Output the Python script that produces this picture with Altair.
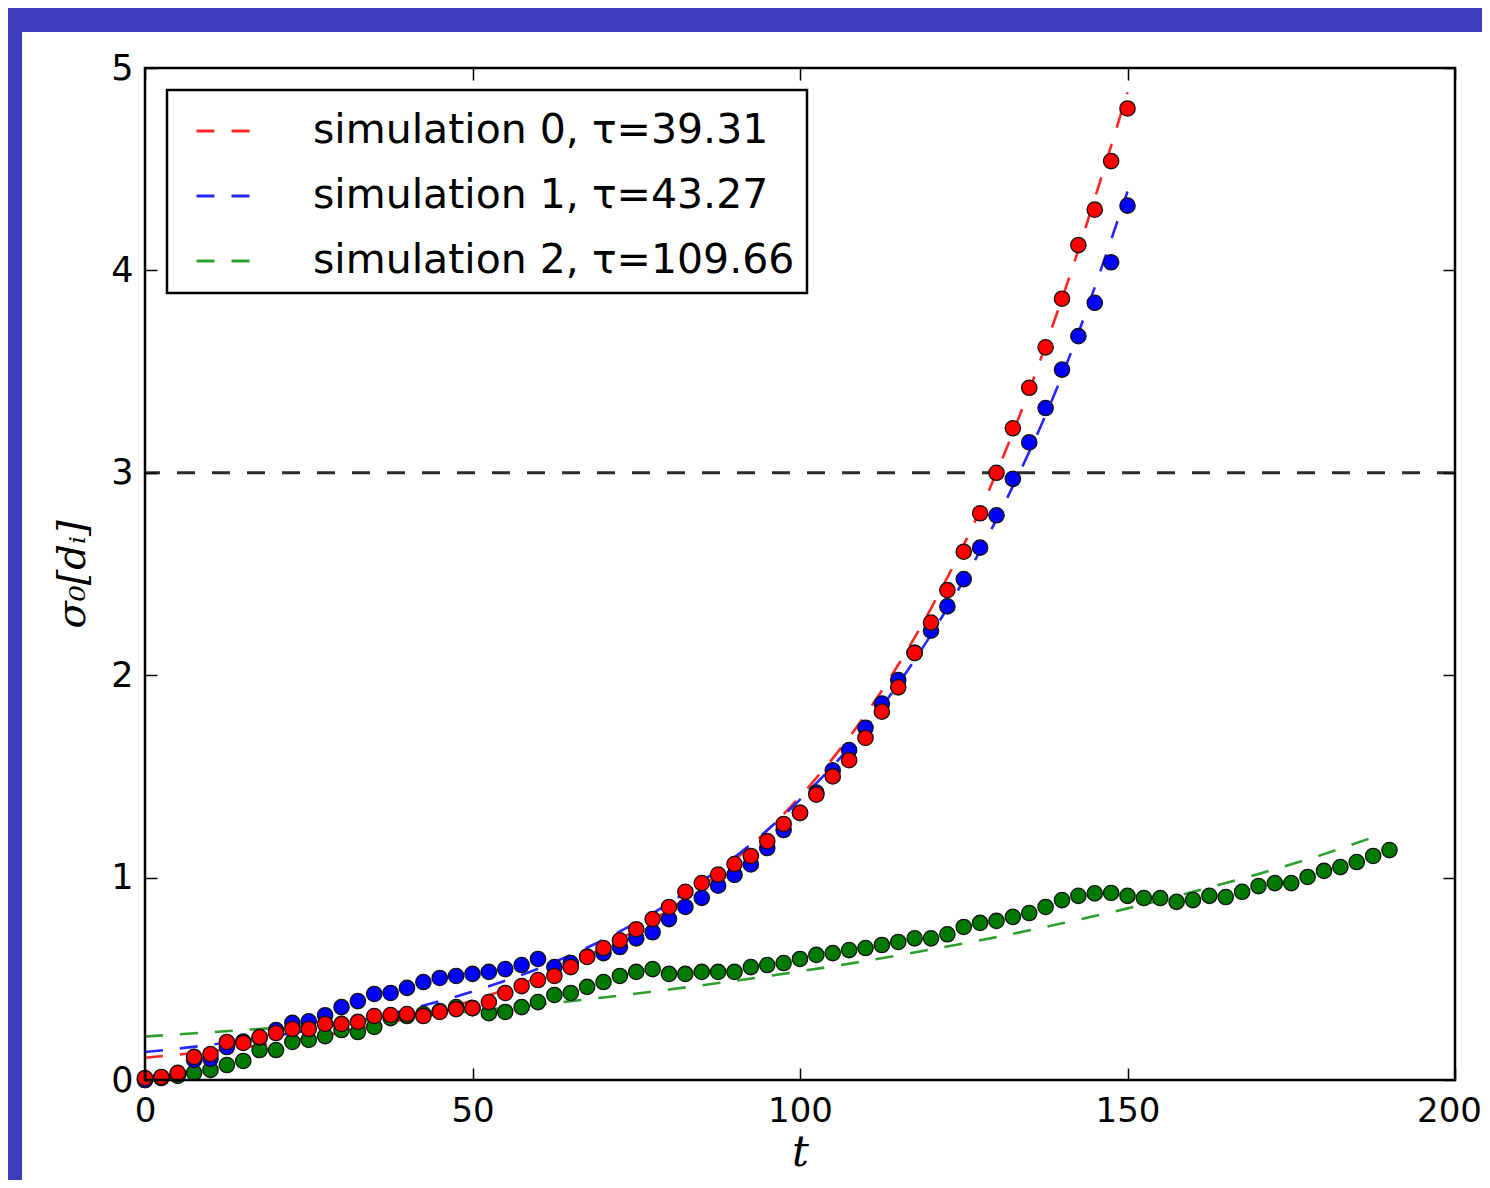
import altair as alt
import pandas as pd

# ---------------- data ----------------
sim_labels = ["simulation 0, τ=39.31", "simulation 1, τ=43.27", "simulation 2, τ=109.66"]

t_step = 2.5
red_vals = [0.01, 0.015, 0.035, 0.114, 0.128, 0.188, 0.183, 0.212, 0.232, 0.252,
            0.252, 0.277, 0.277, 0.287, 0.316, 0.321, 0.326, 0.316, 0.336, 0.35,
            0.355, 0.385, 0.43, 0.464, 0.494, 0.514, 0.558, 0.608, 0.652, 0.69,
            0.745, 0.795, 0.855, 0.93, 0.973, 1.015, 1.067, 1.107, 1.18, 1.265,
            1.32, 1.41, 1.50, 1.58, 1.69, 1.82, 1.94, 2.11, 2.26, 2.42,
            2.61, 2.80, 3.00, 3.22, 3.42, 3.62, 3.86, 4.125, 4.30, 4.54, 4.80]
blue_vals = [0.0, 0.01, 0.03, 0.099, 0.104, 0.163, 0.19, 0.21, 0.247, 0.282,
             0.29, 0.32, 0.36, 0.39, 0.425, 0.43, 0.455, 0.484, 0.504, 0.514,
             0.524, 0.534, 0.548, 0.568, 0.598, 0.558, 0.578, 0.61, 0.627, 0.657,
             0.70, 0.73, 0.795, 0.855, 0.90, 0.96, 1.013, 1.065, 1.146, 1.235,
             1.32, 1.42, 1.53, 1.63, 1.74, 1.86, 1.976, 2.11, 2.22, 2.34,
             2.475, 2.63, 2.79, 2.97, 3.15, 3.32, 3.51, 3.675, 3.84, 4.04, 4.32]
green_vals = [0.0, 0.01, 0.02, 0.035, 0.05, 0.074, 0.094, 0.148, 0.148, 0.188,
              0.198, 0.217, 0.247, 0.237, 0.262, 0.306, 0.316, 0.326, 0.34, 0.36,
              0.355, 0.33, 0.336, 0.36, 0.385, 0.42, 0.43, 0.46, 0.484, 0.514,
              0.534, 0.548, 0.524, 0.524, 0.534, 0.534, 0.534, 0.558, 0.568, 0.578,
              0.598, 0.618, 0.627, 0.642, 0.652, 0.667, 0.682, 0.70, 0.70, 0.72,
              0.756, 0.776, 0.786, 0.806, 0.825, 0.855, 0.889, 0.91, 0.922, 0.924,
              0.91, 0.899, 0.899, 0.88, 0.889, 0.91, 0.904, 0.93, 0.958, 0.973,
              0.973, 1.003, 1.033, 1.052, 1.077, 1.107, 1.136]

fit_t = [0, 10, 20, 30, 40, 50, 60, 70, 80, 90, 100, 110, 120, 130, 140, 150]
fit_red = [0.11, 0.142, 0.183, 0.236, 0.304, 0.393, 0.506, 0.653, 0.842, 1.086,
           1.40, 1.805, 2.33, 3.00, 3.86, 4.88]
fit_blue = [0.138, 0.174, 0.219, 0.276, 0.347, 0.437, 0.55, 0.693, 0.873, 1.10,
            1.385, 1.74, 2.20, 2.77, 3.48, 4.39]
fit_green_t = [0, 10, 20, 30, 40, 50, 60, 70, 80, 90, 100, 110, 120, 130, 140,
               150, 160, 170, 180, 188]
fit_green = [0.215, 0.236, 0.258, 0.283, 0.31, 0.34, 0.372, 0.408, 0.447, 0.49,
             0.537, 0.588, 0.645, 0.706, 0.774, 0.848, 0.93, 1.018, 1.116, 1.205]

threshold = [3]
x_ticks = [0, 50, 100, 150, 200]
y_ticks = [0, 1, 2, 3, 4, 5]

dot_colors = ["#ff0000", "#0000ff", "#007a00"]
line_colors = ["#ff2525", "#2525ff", "#2e9e2e"]

# ---------------- tables ----------------
rows = []
# z-order: green below blue below red
for lab, vals in [(sim_labels[2], green_vals), (sim_labels[1], blue_vals), (sim_labels[0], red_vals)]:
    for i, v in enumerate(vals):
        rows.append({"t": i * t_step, "v": v, "sim": lab})
points_df = pd.DataFrame(rows)

frows = []
for lab, ts, vals in [(sim_labels[0], fit_t, fit_red), (sim_labels[1], fit_t, fit_blue),
                      (sim_labels[2], fit_green_t, fit_green)]:
    for t, v in zip(ts, vals):
        frows.append({"t": t, "v": v, "sim": lab})
fits_df = pd.DataFrame(frows)

W, H = 1310, 1012
xs = alt.Scale(domain=[0, 200], nice=False, zero=False)
ys = alt.Scale(domain=[0, 5], nice=False, zero=False)

def tick_axis(orient, offset, vals):
    return alt.Axis(orient=orient, offset=offset, values=vals, labels=False, domain=False,
                    grid=False, ticks=True, tickSize=12, tickWidth=1.5, tickColor="black",
                    title=None, zindex=1)

main_x = alt.Axis(values=x_ticks, ticks=False, domain=False, grid=False, labelFontSize=34,
                  labelFont="DejaVu Sans", labelColor="black", labelPadding=14,
                  labelFlush=False, labelOverlap=False, labelBound=False,
                  labelOffset=alt.ExprRef("datum.value == 200 ? -6 : 0"),
                  title="t", titleFont="DejaVu Serif", titleFontStyle="italic",
                  titleFontWeight="normal", titleFontSize=42, titleColor="black",
                  titleX=W / 2, titleY=72, titleBaseline="middle", zindex=1)
main_y = alt.Axis(values=y_ticks, ticks=False, domain=False, grid=False, labelFontSize=35,
                  labelFont="DejaVu Sans", labelColor="black", labelPadding=12,
                  labelFlush=False, labelOverlap=False, labelBound=False,
                  title="σ₀[dᵢ]", titleFont="DejaVu Serif", titleFontStyle="italic",
                  titleFontWeight="normal", titleFontSize=40, titleColor="black",
                  titleX=-73, titleY=H / 2, titleBaseline="middle", titleAlign="center",
                  zindex=1)

one = pd.DataFrame({"k": [0]})

bg = alt.Chart(one).mark_rect(color="white").encode(
    x=alt.value(-123), x2=alt.value(W + 60), y=alt.value(-36), y2=alt.value(H + 140))

lines = alt.Chart(fits_df).mark_line(strokeWidth=2.6, strokeDash=[18, 17],
                                     interpolate="monotone").encode(
    x=alt.X("t:Q", scale=xs, axis=main_x),
    y=alt.Y("v:Q", scale=ys, axis=main_y),
    color=alt.Color("sim:N", scale=alt.Scale(domain=sim_labels, range=line_colors),
                    legend=alt.Legend(title=None, orient="top-left", offset=22, padding=12,
                                      strokeColor="black", fillColor="white",
                                      labelFontSize=41, labelFont="DejaVu Sans",
                                      labelColor="black", labelLimit=0,
                                      symbolType="stroke", symbolSize=3025,
                                      symbolStrokeWidth=3, symbolDash=[18, 17],
                                      symbolOffset=16,
                                      labelOffset=60, rowPadding=16, zindex=1)),
    detail="sim:N",
)

points = alt.Chart(points_df).mark_circle(size=235, stroke="#111111", strokeWidth=1.3,
                                          opacity=1).encode(
    x=alt.X("t:Q", scale=xs, axis=tick_axis("top", -H, x_ticks)),
    y=alt.Y("v:Q", scale=ys, axis=tick_axis("right", -W, y_ticks)),
    fill=alt.Fill("sim:N", scale=alt.Scale(domain=sim_labels, range=dot_colors), legend=None),
)

ghost = alt.Chart(fits_df).mark_point(opacity=0).encode(
    x=alt.X("t:Q", scale=xs, axis=tick_axis("bottom", -H, x_ticks)),
    y=alt.Y("v:Q", scale=ys, axis=tick_axis("left", -W, y_ticks)),
)

hline = alt.Chart(pd.DataFrame({"v": threshold})).mark_rule(
    color="#2b2b2b", strokeWidth=3, strokeDash=[18, 17]).encode(
    y=alt.Y("v:Q", scale=ys, axis=None))

frame = alt.Chart(one).mark_rect(fillOpacity=0, stroke="black", strokeWidth=2.5).encode(
    x=alt.value(0), x2=alt.value(W), y=alt.value(0), y2=alt.value(H))

chart = alt.layer(bg, hline, lines, points, ghost, frame).resolve_axis(
    x="independent", y="independent"
).properties(
    width=W, height=H,
    autosize=alt.AutoSizeParams(type="none"),
    padding={"left": 137, "top": 60, "right": 27, "bottom": 100},
).configure(background="#3e3dbf").configure_view(stroke=None).configure_legend(strokeWidth=2.5)

chart.save("out.html", embed_options={"renderer": "svg", "actions": False})
